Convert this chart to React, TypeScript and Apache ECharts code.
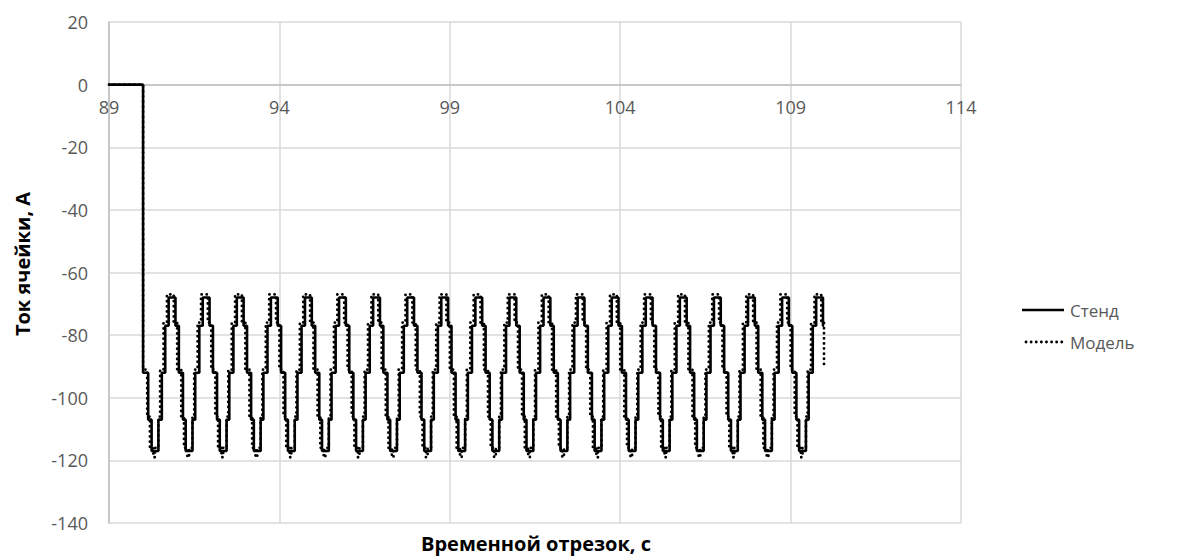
import React, { useEffect, useRef } from "react";
import * as echarts from "echarts";

// Axis ranges
const X_MIN = 89;
const X_MAX = 114;
const X_STEP = 5;
const Y_MIN = -140;
const Y_MAX = 20;
const Y_STEP = 20;

// Bench ("Стенд"): idle segment and the first partial period [time, current]
const STEND_LEAD_TIMES = [89, 90.0, 90.15, 90.25, 90.45, 90.55, 90.65];
const STEND_LEAD_VALUES = [0, -92, -107, -117, -107, -92, -77];
// One period of the bench staircase, offsets from the start of each crest
const STEND_STEP_OFFSETS = [0, 0.2, 0.3, 0.42, 0.5, 0.7, 0.78, 0.9];
const STEND_STEP_LEVELS = [-68, -77, -92, -107, -117, -107, -92, -77];
const STEND_CREST_STARTS = [
  90.75, 91.75, 92.75, 93.75, 94.75, 95.75, 96.75, 97.75, 98.75, 99.75,
  100.75, 101.75, 102.75, 103.75, 104.75, 105.75, 106.75, 107.75, 108.75, 109.75,
];
const STEND_END_TIME = 109.98;
const STEND_END_VALUE = -77;

// Model ("Модель"): idle segment and the first partial period
const MODEL_LEAD_TIMES = [89, 90.0, 90.12, 90.2, 90.3, 90.35, 90.45, 90.5, 90.6];
const MODEL_LEAD_VALUES = [0, -91, -106, -116, -119, -116, -106, -91, -76];
const MODEL_STEP_OFFSETS = [0, 0.2, 0.3, 0.42, 0.5, 0.6, 0.65, 0.75, 0.8, 0.9];
const MODEL_STEP_LEVELS = [-67, -76, -91, -106, -116, -119, -116, -106, -91, -76];
const MODEL_CREST_STARTS = [
  90.7, 91.7, 92.7, 93.7, 94.7, 95.7, 96.7, 97.7, 98.7, 99.7,
  100.7, 101.7, 102.7, 103.7, 104.7, 105.7, 106.7, 107.7, 108.7, 109.7,
];
const MODEL_END_TIME = 109.98;
const MODEL_END_VALUE = -90;

const SERIES_NAMES = ["Стенд", "Модель"];

const FONT = "'Open Sans', 'Noto Sans', sans-serif";
const TEXT_GREY = "#595959";
const GRID_GREY = "#d9d9d9";

// Plot rectangle
const GRID_LEFT = 109;
const GRID_TOP = 22;
const GRID_W = 852;
const GRID_H = 501;

const MODEL_DASH = [0.1, 5];

function buildSteps(
  leadTimes: number[],
  leadValues: number[],
  offsets: number[],
  levels: number[],
  crests: number[],
  endTime: number,
  endValue: number
): [number, number][] {
  const pts: [number, number][] = leadTimes.map((t, i) => [t, leadValues[i]]);
  crests.forEach((c) => {
    offsets.forEach((o, i) => {
      const t = Math.round((c + o) * 1000) / 1000;
      if (t < endTime) pts.push([t, levels[i]]);
    });
  });
  pts.push([endTime, endValue]);
  return pts;
}

export default function App() {
  const ref = useRef<HTMLDivElement>(null);

  useEffect(() => {
    if (!ref.current) return;
    const chart = echarts.init(ref.current, null, { renderer: "svg" });

    const stend = buildSteps(
      STEND_LEAD_TIMES, STEND_LEAD_VALUES, STEND_STEP_OFFSETS, STEND_STEP_LEVELS,
      STEND_CREST_STARTS, STEND_END_TIME, STEND_END_VALUE
    );
    const model = buildSteps(
      MODEL_LEAD_TIMES, MODEL_LEAD_VALUES, MODEL_STEP_OFFSETS, MODEL_STEP_LEVELS,
      MODEL_CREST_STARTS, MODEL_END_TIME, MODEL_END_VALUE
    );

    // The time axis crosses the current axis at zero: lift it from the bottom edge
    const zeroLift = ((0 - Y_MIN) / (Y_MAX - Y_MIN)) * GRID_H;

    const legendX = 1022;
    const legendY = [310, 342];

    chart.setOption({
      animation: false,
      backgroundColor: "#ffffff",
      grid: { left: GRID_LEFT, top: GRID_TOP, width: GRID_W, height: GRID_H, containLabel: false },
      xAxis: {
        type: "value",
        min: X_MIN,
        max: X_MAX,
        interval: X_STEP,
        position: "bottom",
        offset: -zeroLift,
        axisLine: { show: true, onZero: false, lineStyle: { color: "#bfbfbf", width: 1.5 } },
        axisTick: { show: false },
        axisLabel: {
          margin: 13,
          color: TEXT_GREY,
          fontSize: 18,
          fontFamily: FONT,
        },
        splitLine: { show: true, lineStyle: { color: GRID_GREY, width: 1.5 } },
      },
      yAxis: {
        type: "value",
        min: Y_MIN,
        max: Y_MAX,
        interval: Y_STEP,
        axisLine: { show: true, lineStyle: { color: "#bfbfbf", width: 1.5 } },
        axisTick: { show: false },
        axisLabel: {
          margin: 21,
          color: TEXT_GREY,
          fontSize: 18,
          fontFamily: FONT,
        },
        splitLine: { show: true, lineStyle: { color: GRID_GREY, width: 1.5 } },
      },
      graphic: [
        {
          type: "text",
          x: 22,
          y: 264,
          rotation: Math.PI / 2,
          style: {
            text: "Ток ячейки, А",
            font: `bold 20px ${FONT}`,
            fill: "#000000",
            textAlign: "center",
            textVerticalAlign: "middle",
          },
        },
        {
          type: "text",
          x: 536,
          y: 543,
          style: {
            text: "Временной отрезок, с",
            font: `bold 20px ${FONT}`,
            fill: "#000000",
            textAlign: "center",
            textVerticalAlign: "middle",
          },
        },
        // Legend: bench
        {
          type: "line",
          shape: { x1: legendX, y1: legendY[0], x2: legendX + 42, y2: legendY[0] },
          style: { stroke: "#000000", lineWidth: 2.6 },
        },
        {
          type: "text",
          x: legendX + 48,
          y: legendY[0],
          style: {
            text: SERIES_NAMES[0],
            font: `17px ${FONT}`,
            fill: TEXT_GREY,
            textAlign: "left",
            textVerticalAlign: "middle",
          },
        },
        // Legend: model
        {
          type: "line",
          shape: { x1: legendX + 4, y1: legendY[1], x2: legendX + 42, y2: legendY[1] },
          style: { stroke: "#000000", lineWidth: 2.8, lineDash: MODEL_DASH, lineCap: "round" },
        },
        {
          type: "text",
          x: legendX + 48,
          y: legendY[1],
          style: {
            text: SERIES_NAMES[1],
            font: `17px ${FONT}`,
            fill: TEXT_GREY,
            textAlign: "left",
            textVerticalAlign: "middle",
          },
        },
      ],
      series: [
        {
          name: SERIES_NAMES[0],
          type: "line",
          step: "end",
          data: stend,
          symbol: "none",
          showSymbol: false,
          lineStyle: { color: "#000000", width: 2.6, type: "solid" },
          itemStyle: { color: "#000000" },
          z: 2,
        },
        {
          name: SERIES_NAMES[1],
          type: "line",
          step: "end",
          data: model,
          symbol: "none",
          showSymbol: false,
          lineStyle: { color: "#000000", width: 2.8, type: MODEL_DASH, cap: "round" },
          itemStyle: { color: "#000000" },
          z: 3,
        },
      ],
    });

    return () => chart.dispose();
  }, []);

  return (
    <div
      ref={ref}
      style={{ position: "absolute", left: 0, top: 0, width: 1180, height: 557 }}
    />
  );
}
